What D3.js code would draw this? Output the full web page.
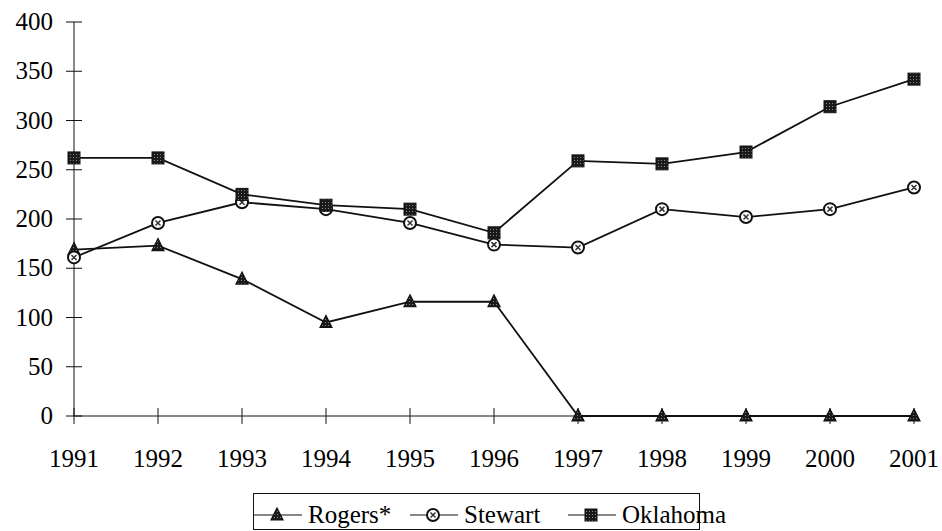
<!DOCTYPE html>
<html>
<head>
<meta charset="utf-8">
<script src="https://cdn.jsdelivr.net/npm/d3@7"></script>
<style>
  body { margin: 0; background: #fff; }
  .lbl { font-family: 'Liberation Serif'; }
</style>
</head>
<body>
<svg id="s" width="942" height="531"></svg>
<script>
// data
const years = [1991, 1992, 1993, 1994, 1995, 1996, 1997, 1998, 1999, 2000, 2001];
const rogers = [169, 173, 139, 95, 116, 116, 0, 0, 0, 0, 0];
const stewart = [161, 196, 217, 210, 196, 174, 171, 210, 202, 210, 232];
const oklahoma = [262, 262, 225, 214, 210, 186, 259, 256, 268, 314, 342];
const yTicks = [0, 50, 100, 150, 200, 250, 300, 350, 400];
const seriesNames = ["Rogers*", "Stewart", "Oklahoma"];

const svg = d3.select("#s");

function label(txt, bx, by, anchor) {
  svg.append("text").attr("class", "lbl")
    .attr("x", bx).attr("y", by)
    .attr("text-anchor", anchor)
    .attr("font-size", 25)
    .attr("font-family", "Liberation Serif")
    .style("font-family", "'Liberation Serif'")
    .text(txt);
}

// stipple pattern for the dark markers
const defs = svg.append("defs");
const pat = defs.append("pattern").attr("id", "dots")
  .attr("width", 3).attr("height", 3).attr("patternUnits", "userSpaceOnUse");
pat.append("rect").attr("width", 3).attr("height", 3).attr("fill", "#1a1a1a");
pat.append("rect").attr("x", 1).attr("y", 1).attr("width", 1).attr("height", 1).attr("fill", "#888");

const x = d3.scaleLinear().domain([1991, 2001]).range([74, 914]);
const y = d3.scaleLinear().domain([0, 400]).range([416, 22]);

// y axis
const yAxis = svg.append("g");
yAxis.append("line").attr("x1", x(1991)).attr("x2", x(1991))
  .attr("y1", y(400)).attr("y2", y(0)).attr("stroke", "#111");
yAxis.selectAll(".yt").data(yTicks).enter().append("line")
  .attr("x1", x(1991) - 8).attr("x2", x(1991) + 8)
  .attr("y1", d => y(d)).attr("y2", d => y(d)).attr("stroke", "#111");
yTicks.forEach(d => label(String(d), 53, y(d) + 8, "end"));

// x axis
const xAxis = svg.append("g");
xAxis.append("line").attr("x1", x(1991)).attr("x2", x(2001))
  .attr("y1", y(0)).attr("y2", y(0)).attr("stroke", "#111");
xAxis.selectAll(".xt").data(years).enter().append("line")
  .attr("x1", d => x(d)).attr("x2", d => x(d))
  .attr("y1", y(0) - 8).attr("y2", y(0) + 8).attr("stroke", "#111");
years.forEach(d => label(String(d), x(d), 467, "middle"));

const line = d3.line().x((d, i) => x(years[i])).y(d => y(d));

function marker(g, kind, cx, cy) {
  if (kind === 0) {
    const s = 6;
    g.append("path")
      .attr("d", `M${cx},${cy - s - 1}L${cx + s},${cy + s - 1}L${cx - s},${cy + s - 1}Z`)
      .attr("fill", "url(#dots)").attr("stroke", "#111").attr("stroke-width", 1.2);
  } else if (kind === 1) {
    g.append("circle").attr("cx", cx).attr("cy", cy).attr("r", 6)
      .attr("fill", "#fff").attr("stroke", "#111").attr("stroke-width", 2);
    g.append("path")
      .attr("d", `M${cx - 2.5},${cy - 2.5}L${cx + 2.5},${cy + 2.5}M${cx + 2.5},${cy - 2.5}L${cx - 2.5},${cy + 2.5}`)
      .attr("stroke", "#333").attr("stroke-width", 1.5);
  } else {
    g.append("rect").attr("x", cx - 6).attr("y", cy - 6)
      .attr("width", 12).attr("height", 12)
      .attr("fill", "url(#dots)").attr("stroke", "#111").attr("stroke-width", 1);
  }
}

[rogers, stewart, oklahoma].forEach((vals, k) => {
  const g = svg.append("g");
  g.append("path").attr("d", line(vals))
    .attr("fill", "none").attr("stroke", "#111").attr("stroke-width", 1.8);
  vals.forEach((v, i) => marker(g, k, x(years[i]), y(v)));
});

// legend
const lg = svg.append("g");
lg.append("rect").attr("x", 253.5).attr("y", 493.5).attr("width", 446).attr("height", 36)
  .attr("fill", "#fff").attr("stroke", "#111");
const legX = [254, 410, 568];
seriesNames.forEach((name, k) => {
  const lx = legX[k];
  lg.append("line").attr("x1", lx).attr("x2", lx + 48)
    .attr("y1", 515).attr("y2", 515).attr("stroke", "#111").attr("stroke-width", 1.2);
  marker(lg, k, lx + 23, 515);
  label(name, lx + 54, 523, "start");
});
</script>
</body>
</html>
